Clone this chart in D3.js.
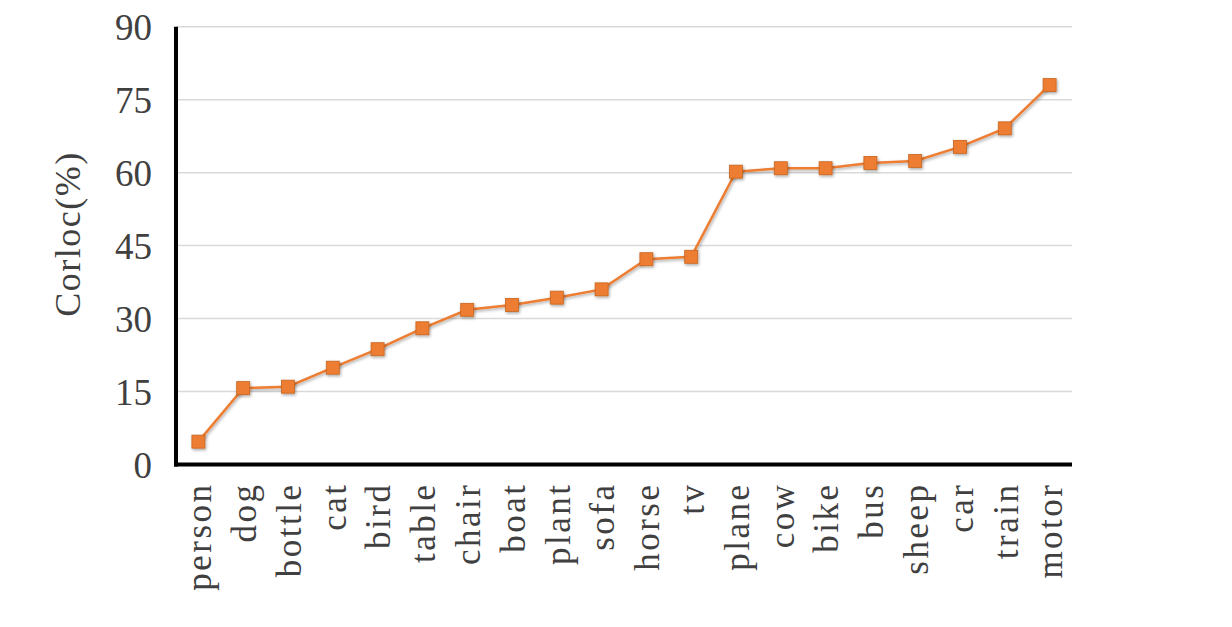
<!DOCTYPE html>
<html>
<head>
<meta charset="utf-8">
<script src="https://cdn.jsdelivr.net/npm/d3@7"></script>
<style>
  html, body { margin: 0; padding: 0; background: #fff; }
  svg { display: block; }
  text { font-family: "Liberation Serif", "Times New Roman", serif; fill: #404040; }
</style>
</head>
<body>
<svg id="chart" width="1232" height="627"></svg>
<script>
const categories = ["person","dog","bottle","cat","bird","table","chair","boat","plant","sofa","horse","tv","plane","cow","bike","bus","sheep","car","train","motor"];
const corloc = [4.7,15.7,16.0,19.9,23.7,28.0,31.8,32.8,34.3,36.0,42.2,42.7,60.2,60.9,60.9,62.0,62.4,65.3,69.1,78.0];
const yTicks = [0,15,30,45,60,75,90];
const yTitle = "Corloc(%)";

const svg = d3.select("#chart");
const pLeft = 176, pRight = 1072, pTop = 26.7, pBottom = 464.5;

const x = d3.scalePoint().domain(categories).range([pLeft, pRight]).padding(0.5);
const y = d3.scaleLinear().domain([0, 90]).range([pBottom, pTop]);

// gridlines
svg.append("g").selectAll("line").data(yTicks.filter(d => d > 0)).join("line")
  .attr("x1", pLeft).attr("x2", pRight)
  .attr("y1", d => y(d)).attr("y2", d => y(d))
  .attr("stroke", "#d9d9d9").attr("stroke-width", 1.5);

// y axis
const yAxis = svg.append("g").attr("transform", `translate(${pLeft},0)`)
  .call(d3.axisLeft(y).tickValues(yTicks).tickSize(0).tickPadding(24));
yAxis.select(".domain").attr("stroke", "#000").attr("stroke-width", 4)
  .attr("d", `M0,${pTop}V${pBottom + 2}`);
yAxis.selectAll("text").style("font-family", '"Liberation Serif", serif')
  .style("font-size", "37px").attr("fill", "#404040").attr("dy", "0.35em");

// x axis
const xAxis = svg.append("g").attr("transform", `translate(0,${pBottom})`)
  .call(d3.axisBottom(x).tickSize(0));
xAxis.select(".domain").attr("stroke", "#000").attr("stroke-width", 4)
  .attr("d", `M${pLeft - 2},0H${pRight}`);
xAxis.selectAll("text")
  .style("font-family", '"Liberation Serif", serif')
  .style("font-size", "35px").style("letter-spacing", "2.5px")
  .attr("fill", "#404040")
  .attr("text-anchor", "end")
  .attr("transform", "rotate(-90)")
  .attr("x", -18).attr("y", 0).attr("dy", "0.35em");

// y title
svg.append("text")
  .attr("transform", `translate(80,234) rotate(-90)`)
  .attr("text-anchor", "middle")
  .style("font-size", "36px").style("letter-spacing", "1.5px")
  .text(yTitle);

// shadow filter
const defs = svg.append("defs");
const f = defs.append("filter").attr("id", "sh").attr("x", "-50%").attr("y", "-50%").attr("width", "200%").attr("height", "200%");
f.append("feDropShadow").attr("dx", 1).attr("dy", 1.5).attr("stdDeviation", 1.5).attr("flood-color", "#000").attr("flood-opacity", 0.35);

const line = d3.line().x((d, i) => x(categories[i])).y(d => y(d));
svg.append("path").datum(corloc)
  .attr("d", line).attr("fill", "none")
  .attr("stroke", "#ED7D31").attr("stroke-width", 2.5)
  .attr("filter", "url(#sh)");

const s = 13;
svg.append("g").selectAll("rect").data(corloc).join("rect")
  .attr("x", (d, i) => x(categories[i]) - s / 2)
  .attr("y", d => y(d) - s / 2)
  .attr("width", s).attr("height", s)
  .attr("fill", "#ED7D31").attr("stroke", "#c8641e").attr("stroke-width", 0.8)
  .attr("filter", "url(#sh)");
</script>
</body>
</html>
